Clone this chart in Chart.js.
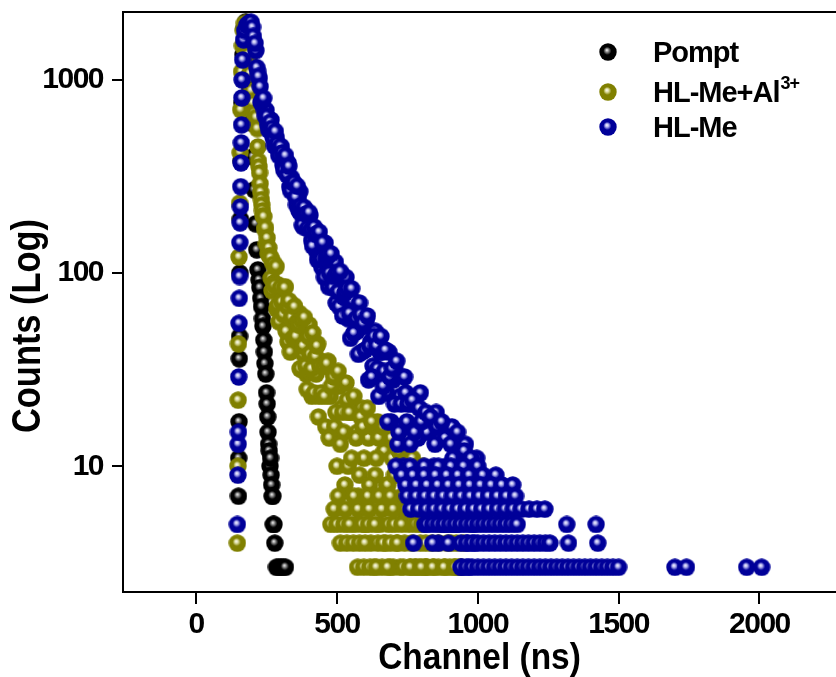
<!DOCTYPE html>
<html>
<head>
<meta charset="utf-8">
<script src="https://cdn.jsdelivr.net/npm/chart.js@4.4.1/dist/chart.umd.min.js"></script>
<style>
  html, body { margin: 0; padding: 0; background: #fff; }
</style>
</head>
<body>
<canvas id="decayChart" width="836" height="677"></canvas>
<script>
const xTicks = [0, 500, 1000, 1500, 2000];
const yTicks = [10, 100, 1000];
const legendNames = ['Pompt', 'HL-Me+Al', 'HL-Me'];
const legendSup = ['', '3+', ''];

// [channel (ns), counts]
const pompt = [
  [150,7],[151,11],[152,17],[153,36],[154,47],[155,100],[157,190],[159,380],[162,760],[166,1350],
  [171,1850],[176,2000],[181,1750],[186,1300],[191,900],[196,600],[201,400],[206,270],[211,180],
  [215,132],[219,104],[223,92],[226,84],[229,74],[232,67],[235,58],[237,53],[240,45],[242,39],
  [244,34],[247,30],[250,24],[252,21],[254,18],[255,15],[257,13],[259,12],[262,10],[264,11],
  [266,9],[268,8],[270,7],[272,7],[274,5],[276,5],[279,4],[285,3],[293,3],[301,3],[309,3],[317,3]
];

const hlMeAl = [
  [146,4],[148,10],[149,22],[150,43],[152,121],[154,230],[156,420],[158,700],[161,1100],[164,1500],
  [167,1800],[171,1960],[176,1900],[181,1650],[186,1350],[191,1080],[196,880],[201,760],[206,670],[210,620],
  [213,640],[217,560],[219,450],[221,380],[223,355],[225,330],[227,290],[229,262],[231,240],[233,225],
  [235,210],[237,198],[240,196],[243,168],[246,172],[249,141],[252,152],[255,126],[258,135],
  [261,123],[266,94],[271,115],[276,89],[281,108],[286,65],[291,87],[296,69],[301,83],[306,56],
  [311,70],[316,85],[321,55],[326,44],[331,67],[336,60],[341,51],[346,68],[351,41],[356,55],
  [361,46],[366,62],[371,32],[376,51],[381,38],[386,50],[391,30],[396,41],[401,54],[406,31],
  [411,23],[416,42],[421,36],[426,30],[431,43],[436,23],[441,35],[446,33],
  [264,120],[269,81],[274,111],[279,86],[284,108],[289,68],[294,56],[299,84],[304,71],[309,61],
  [314,84],[319,50],[324,67],[329,72],[334,39],[339,59],[344,46],[349,67],[354,47],[359,56],
  [364,54],[369,32],[374,57],[379,42],[384,59],[389,33],[394,25],[399,47],[404,38],[409,32],
  [414,49],[419,24],[424,37],[429,42],[434,18],[439,33],[444,24],
  [452,33],[460,16],[468,35],[476,23],[484,31],[492,16],[500,10],[508,26],[516,20],[524,15],
  [532,27],[540,10],[548,19],[556,21],[564,5],[572,15],[580,9],[588,20],[596,11],[604,15],
  [612,14],[620,4],[628,16],[636,9],[644,17],[652,5],[660,3],[668,12],[676,8],[684,5],
  [692,14],[700,3],[708,9],[716,11],[724,3],[732,7],[740,4],[748,11],[756,5],[764,8],
  [772,7],[780,3],[788,9],[796,4],[804,10],[812,3],[820,3],[828,7],[836,4],[844,3],
  [852,9],[860,3],[868,5],[876,7],[884,3],[892,4],[900,3],[908,5],[916,3],[924,4],
  [932,3],[940,3],[948,4],
  [456,23],[464,34],[472,14],[480,26],[488,29],[496,19],[504,31],[512,13],[520,19],[528,8],
  [536,22],[544,19],[552,11],[560,23],[568,14],[576,7],[584,18],[592,16],[600,5],[608,20],
  [616,8],[624,17],[632,3],[640,11],[648,14],[656,7],[664,16],[672,4],[680,8],[688,3],
  [696,11],[704,9],[712,4],[720,12],[728,6],[736,3],[744,10],[752,8],[760,3],[768,11],
  [776,3],[784,10],[792,3],[800,6],[808,8],[816,3],[824,9],
  [573,3],[595,3],[617,3],[640,3],[680,3],[760,3],[800,3],[840,3],[880,3],[920,3],
  [512,4],[535,4],[558,4],[580,4],[600,4],[645,4],[665,4],[690,4],[715,4],[765,4],[815,4],[860,4],[905,4],
  [478,5],[500,5],[525,5],[545,5],[590,5],[612,5],[635,5],[705,5],[730,5],[780,5],[800,5],
  [490,6],[530,6],[575,6],[615,6],[660,6],[700,6],[745,6],
  [505,7],[560,7],[610,7],[650,7],[690,7]
];

const hlMe = [
  [146,5],[148,9],[149,13],[150,15],[151,29],[152,55],[153,74],[154,96],[155,144],[156,182],
  [157,220],[158,280],[159,372],[160,472],[161,585],[162,807],[163,1000],[165,1269],[168,1611],[172,1800],
  [180,1924],[188,1975],[195,1990],
  [200,1872],[206,1546],[212,1418],[218,1107],[224,1019],[230,763],[236,793],[242,696],[248,697],[254,585],
  [260,599],[266,620],[272,509],[278,455],[284,503],[290,463],[296,423],[302,451],[308,361],[314,383],
  [320,344],[326,372],[332,279],[338,312],[344,267],[350,285],[356,225],[362,243],[368,264],[374,201],
  [380,174],[386,213],[392,194],[398,175],[404,199],[410,147],[416,168],[422,158],[428,129],[434,157],
  [440,146],[446,107],[452,123],[458,143],[464,101],[470,85],[476,115],[482,105],[488,92],[494,114],
  [203,1679],[209,1547],[215,1158],[221,1043],[227,922],[233,774],[239,804],[245,649],[251,646],[257,551],
  [263,604],[269,562],[275,493],[281,541],[287,465],[293,406],[299,452],[305,419],[311,341],[317,406],
  [323,322],[329,357],[335,267],[341,295],[347,294],[353,247],[359,282],[365,210],[371,222],[377,177],
  [383,219],[389,202],[395,170],[401,206],[407,167],[413,138],[419,173],[425,159],[431,117],[437,163],
  [443,118],[449,144],[455,95],[461,119],[467,125],[473,100],[479,126],[485,84],[491,96],[497,70],
  [500,100],[508,67],[516,98],[524,75],[532,95],[540,58],[548,46],[556,72],[564,60],[572,50],
  [580,70],[588,39],[596,53],[604,57],[612,28],[620,44],[628,33],[636,50],[644,32],[652,39],
  [660,39],[668,31],[676,24],[684,39],[692,17],[700,28],[708,31],[716,13],[724,23],[732,16],
  [740,29],[748,17],[756,22],[764,21],[772,4],[780,23],[788,14],[796,24],[804,9],[812,5],
  [820,15],[828,8],[836,18],[844,10],[852,19],[860,4],[868,14],[876,8],[884,14],[892,5],
  [900,10],[908,16],[916,6],[924,5],[932,11],[940,9],[948,6],[956,13],[964,4],[972,9],
  [980,9],[988,4],[996,11],
  [504,80],[512,102],[520,60],[528,79],[536,83],[544,62],[552,83],[560,49],[568,58],[576,38],
  [584,61],[592,55],[600,40],[608,60],[616,42],[624,29],[632,47],[640,42],[648,23],[656,47],
  [664,26],[672,40],[680,17],[688,29],[696,32],[704,21],[712,35],[720,15],[728,21],[736,10],
  [744,24],[752,21],[760,13],[768,22],[776,15],[784,8],[792,20],[800,17],[808,6],[816,19],
  [824,9],[832,18],[840,4],[848,13],[856,16],[864,9],[872,17],[880,5],[888,10],[896,4],
  [904,13],[912,11],[920,5],[928,15],[936,8],[944,3],[952,12],[960,10],[968,3],[976,11],
  [984,5],[992,10],
  [710,10],[760,10],[810,10],[860,10],[905,10],[950,10],[1000,10],
  [730,9],[770,9],[810,9],[850,9],[890,9],[930,9],[970,9],[1018,9],[1064,9],
  [744,8],[782,8],[820,8],[858,8],[896,8],[934,8],[972,8],[1010,8],[1048,8],[1086,8],[1124,8],
  [750,7],[782,7],[814,7],[846,7],[878,7],[910,7],[942,7],[974,7],[1006,7],[1038,7],[1070,7],[1102,7],[1134,7],
  [762,6],[790,6],[818,6],[846,6],[874,6],[902,6],[930,6],[958,6],[986,6],[1014,6],[1042,6],[1070,6],
  [1098,6],[1126,6],[1154,6],[1182,6],[1210,6],[1238,6],
  [820,5],[840,5],[860,5],[880,5],[900,5],[920,5],[940,5],[960,5],[980,5],
  [1000,5],[1020,5],[1040,5],[1060,5],[1080,5],[1100,5],[1120,5],[1140,5],[1316,5],[1420,5],
  [940,4],[960,4],[980,4],[1000,4],[1020,4],[1040,4],[1060,4],[1080,4],[1100,4],[1120,4],[1140,4],
  [1160,4],[1180,4],[1200,4],[1220,4],[1240,4],[1256,4],[1322,4],[1426,4],
  [940,3],[960,3],[980,3],[1000,3],[1020,3],[1040,3],[1060,3],[1080,3],[1100,3],[1120,3],[1140,3],
  [1160,3],[1180,3],[1200,3],[1220,3],[1240,3],[1260,3],[1280,3],[1300,3],[1320,3],[1340,3],[1360,3],
  [1380,3],[1400,3],[1420,3],[1440,3],[1460,3],[1480,3],[1500,3],
  [1700,3],[1741,3],[1955,3],[2008,3]
];

const FONT = '"Liberation Sans", Arial, sans-serif';

// shaded ball used as point style
function ball(base, light) {
  const r = 9;
  const c = document.createElement('canvas');
  c.width = c.height = r * 2;
  const g = c.getContext('2d');
  const grad = g.createRadialGradient(r - 1.2, r - 2, 0, r, r, r);
  grad.addColorStop(0, '#ffffff');
  grad.addColorStop(0.2, light);
  grad.addColorStop(0.45, base);
  grad.addColorStop(1, base);
  g.fillStyle = grad;
  g.beginPath();
  g.arc(r, r, r - 0.3, 0, Math.PI * 2);
  g.fill();
  return c;
}

const balls = [
  ball('#000000', '#8a8a8a'),
  ball('#808000', '#dcdca0'),
  ball('#000099', '#aeaeee')
];

const toXY = arr => arr.map(p => ({ x: p[0], y: p[1] }));

const decor = {
  id: 'decor',
  beforeDraw(chart) {
    const ctx = chart.ctx;
    ctx.save();
    ctx.fillStyle = '#fff';
    ctx.fillRect(0, 0, chart.width, chart.height);
    ctx.restore();
    ctx.letterSpacing = '-1.5px';
  },
  afterDraw(chart) {
    const ctx = chart.ctx;
    const a = chart.chartArea;
    ctx.save();
    ctx.strokeStyle = '#000';
    ctx.lineWidth = 2;
    ctx.beginPath();
    ctx.moveTo(a.left, a.top);
    ctx.lineTo(a.right, a.top);
    ctx.stroke();

    ctx.fillStyle = '#000';
    ctx.letterSpacing = '0px';
    // y title
    ctx.save();
    ctx.translate(29, 326);
    ctx.rotate(-Math.PI / 2);
    ctx.scale(0.86, 1);
    ctx.font = 'bold 40px ' + FONT;
    ctx.textAlign = 'center';
    ctx.textBaseline = 'middle';
    ctx.fillText('Counts (Log)', 0, 0);
    ctx.restore();
    // x title
    ctx.save();
    ctx.translate((a.left + a.right) / 2, 669);
    ctx.scale(0.93, 1);
    ctx.font = 'bold 36px ' + FONT;
    ctx.textAlign = 'center';
    ctx.textBaseline = 'alphabetic';
    ctx.fillText('Channel (ns)', 0, 0);
    ctx.restore();

    // legend
    const rows = [52, 92, 127];
    ctx.letterSpacing = '-1px';
    ctx.textAlign = 'left';
    ctx.textBaseline = 'alphabetic';
    rows.forEach((y, i) => {
      ctx.drawImage(balls[i], 608 - 9, y - 9);
      ctx.font = 'bold 29px ' + FONT;
      ctx.fillText(legendNames[i], 653, y + 10);
      if (legendSup[i]) {
        const w = ctx.measureText(legendNames[i]).width;
        ctx.font = 'bold 18px ' + FONT;
        ctx.fillText(legendSup[i], 653 + w + 1, y - 3);
      }
    });
    ctx.restore();
  }
};

const axisLine = { color: '#000', width: 2 };

new Chart(document.getElementById('decayChart'), {
  type: 'scatter',
  data: {
    datasets: [
      { label: 'Pompt', data: toXY(pompt), pointStyle: balls[0], pointRadius: 9, order: 3, clip: false },
      { label: 'HL-Me+Al3+', data: toXY(hlMeAl), pointStyle: balls[1], pointRadius: 9, order: 2, clip: false },
      { label: 'HL-Me', data: toXY(hlMe), pointStyle: balls[2], pointRadius: 9, order: 1, clip: false }
    ]
  },
  options: {
    responsive: false,
    animation: false,
    events: [],
    layout: { autoPadding: false, padding: { top: 12, right: 0, bottom: 0, left: 0 } },
    plugins: { legend: { display: false }, tooltip: { enabled: false } },
    scales: {
      x: {
        type: 'linear',
        min: -260,
        max: 2272,
        afterBuildTicks: s => { s.ticks = xTicks.map(v => ({ value: v })); },
        afterFit: s => { s.height = 85; s.paddingLeft = 0; s.paddingRight = 0; },
        border: axisLine,
        grid: { drawOnChartArea: false, drawTicks: true, tickLength: 12, color: '#000', lineWidth: 2 },
        ticks: {
          autoSkip: false, maxRotation: 0, padding: 3, color: '#000',
          font: { family: FONT, size: 30, weight: 'bold' },
          callback: v => String(v)
        }
      },
      y: {
        type: 'logarithmic',
        min: 2.235,
        max: 2247,
        afterBuildTicks: s => { s.ticks = yTicks.map(v => ({ value: v })); },
        afterFit: s => { s.width = 123; s.paddingTop = 0; s.paddingBottom = 0; },
        border: axisLine,
        grid: { drawOnChartArea: false, drawTicks: true, tickLength: 11, color: '#000', lineWidth: 2 },
        ticks: {
          autoSkip: false, padding: 9, color: '#000',
          font: { family: FONT, size: 30, weight: 'bold' },
          callback: v => String(v)
        }
      }
    }
  },
  plugins: [decor]
});
</script>
</body>
</html>
